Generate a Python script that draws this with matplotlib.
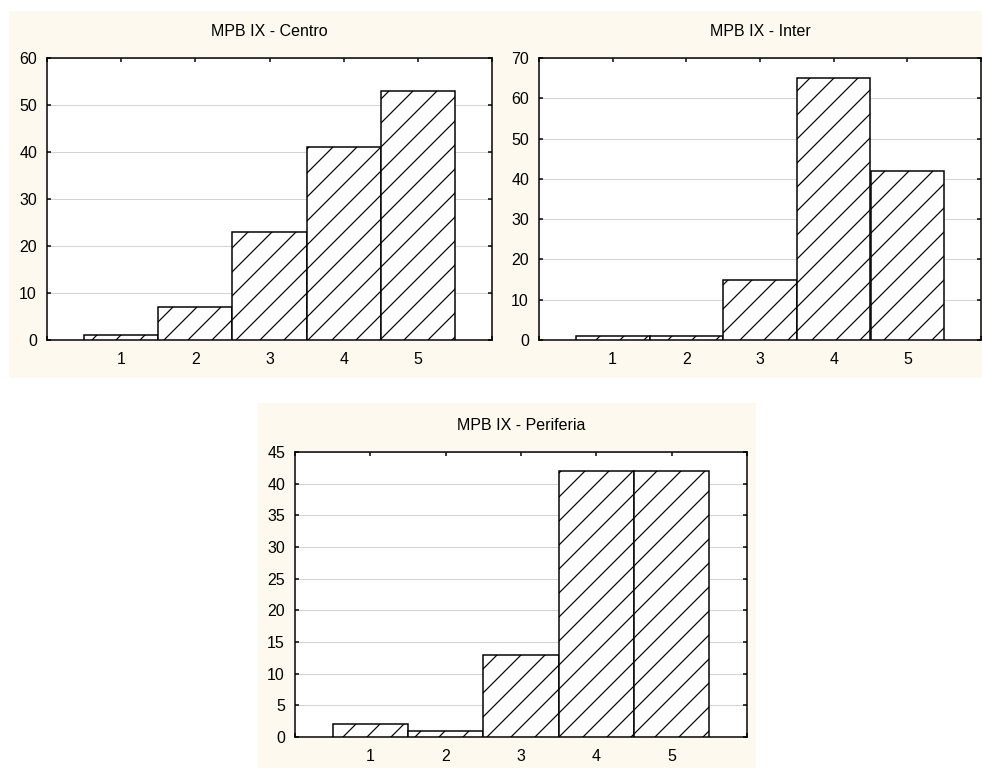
import matplotlib
matplotlib.use("Agg")
import matplotlib.pyplot as plt
from matplotlib.patches import Rectangle

# data
categories = [1, 2, 3, 4, 5]
centro = [1, 7, 23, 41, 53]
inter = [1, 1, 15, 65, 42]
periferia = [2, 1, 13, 42, 42]

titles = ["MPB IX - Centro", "MPB IX - Inter", "MPB IX - Periferia"]
ylims = [(0, 60, 10), (0, 70, 10), (0, 45, 5)]

W, H, DPI = 982, 768, 144
CREAM = "#fdf9ee"

plt.rcParams["font.family"] = ["Liberation Sans", "DejaVu Sans"]
plt.rcParams["font.size"] = 8
plt.rcParams["hatch.linewidth"] = 0.6

fig = plt.figure(figsize=(W / DPI, H / DPI), dpi=DPI)
fig.patch.set_facecolor("white")


def px_rect(x0, y0, x1, y1):
    # pixel box (top-left origin) -> figure fraction [l, b, w, h]
    return [x0 / W, 1 - y1 / H, (x1 - x0) / W, (y1 - y0) / H]


# cream panel backgrounds
for x0, y0, x1, y1 in [(9, 11, 982, 378), (258, 403, 756, 768)]:
    l, b, w, h = px_rect(x0, y0, x1, y1)
    fig.patches.append(Rectangle((l, b), w, h, transform=fig.transFigure,
                                 facecolor=CREAM, edgecolor="none", zorder=-5))

boxes = [(47, 58, 492, 340), (539, 58, 981, 340), (295, 452, 747, 737)]
series = [centro, inter, periferia]

for box, vals, title, (ymin, ymax, step) in zip(boxes, series, titles, ylims):
    ax = fig.add_axes(px_rect(*box))
    ax.set_zorder(2)
    ax.set_facecolor("white")
    ax.bar(categories, vals, width=1.0, color="white", edgecolor="black",
           linewidth=0.75, hatch="//", zorder=3)
    ax.set_xlim(0, 6)
    ax.set_ylim(ymin, ymax)
    ax.set_xticks(range(0, 7))
    ax.set_xticklabels([""] + [str(c) for c in categories] + [""])
    ax.set_yticks(range(ymin, ymax + 1, step))
    ax.yaxis.grid(True, color="#a8a8a8", linestyle=(0, (1, 1)), linewidth=0.5, zorder=1)
    ax.tick_params(direction="in", length=2, width=0.75, top=True, right=True,
                   labelsize=8, pad=5)
    ax.tick_params(axis="x", pad=6)
    for s in ax.spines.values():
        s.set_linewidth(0.75)
    ax.set_title(title, fontsize=8, pad=11)

fig.savefig("out.png", dpi=DPI)
